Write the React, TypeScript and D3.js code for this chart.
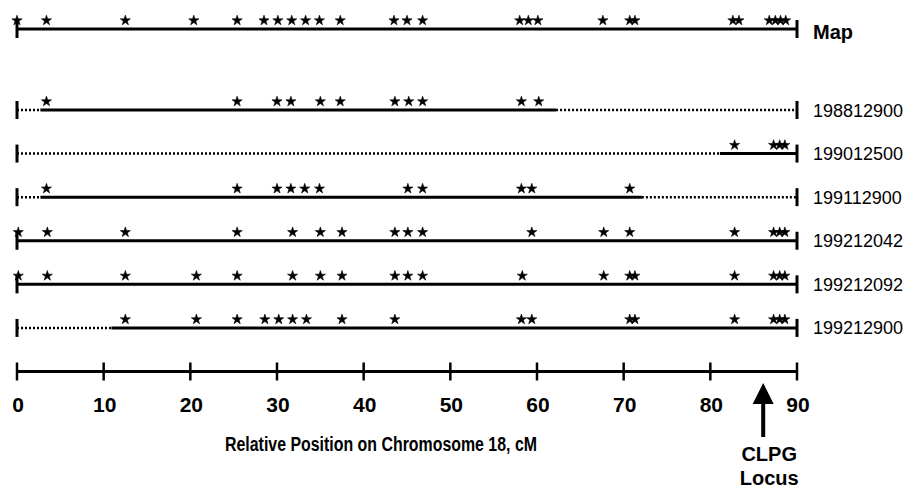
import React from "react"
import * as d3 from "d3"

// marker positions in cM
const mapMarkers = [0.0, 3.4, 12.5, 20.4, 25.4, 28.5, 30.1, 31.7, 33.3, 34.9, 37.3, 43.5, 45.0, 46.8, 58.0, 59.0, 60.1, 67.6, 70.7, 71.3, 82.6, 83.3, 86.8, 87.5, 88.1, 88.7]

const animals = ["198812900", "199012500", "199112900", "199212042", "199212092", "199212900"]

const markers198812900 = [3.4, 25.4, 30.0, 31.6, 35.0, 37.3, 43.6, 45.2, 46.8, 58.2, 60.2]
const markers199012500 = [82.8, 87.3, 88.0, 88.6]
const markers199112900 = [3.4, 25.4, 30.0, 31.6, 33.2, 34.9, 45.1, 46.8, 58.2, 59.4, 70.7]
const markers199212042 = [0.15, 3.5, 12.5, 25.4, 31.8, 35.0, 37.5, 43.6, 45.1, 46.8, 59.4, 67.7, 70.7, 82.8, 87.3, 88.0, 88.6]
const markers199212092 = [0.15, 3.5, 12.5, 20.7, 25.4, 31.8, 35.0, 37.5, 43.6, 45.1, 46.8, 58.3, 67.7, 70.7, 71.3, 82.8, 87.3, 88.0, 88.6]
const markers199212900 = [12.5, 20.7, 25.4, 28.6, 30.2, 31.8, 33.4, 37.5, 43.6, 58.2, 59.4, 70.7, 71.3, 82.8, 87.3, 88.0, 88.6]

// informative (solid) stretch of each animal, start / end in cM
const solidStart = [2.7, 81.1, 2.7, 0, 0, 10.9]
const solidEnd = [62.2, 90, 72.1, 90, 90, 90]

const axisTicks = [0, 10, 20, 30, 40, 50, 60, 70, 80, 90]
const chromLength = 90
const clpgLocus = 86.1

const FONT = "'Liberation Sans', Arial, Helvetica, sans-serif"

export default function App() {
  const ref = React.useRef<SVGSVGElement>(null)

  React.useEffect(() => {
    const width = 904
    const height = 489
    const svg = d3.select(ref.current)
    svg.selectAll("*").remove()
    svg.attr("width", width).attr("height", height)

    const x = d3.scaleLinear().domain([0, chromLength]).range([17, 797])
    // rows 0..5 are animals, row 6 is the axis
    const y = d3.scaleLinear().domain([0, 6]).range([110, 371.5])
    const mapY = 29

    const star = d3.symbol().type(d3.symbolStar).size(32)

    const drawTrack = (yPos: number, from: number, to: number, stars: number[]) => {
      const g = svg.append("g")
      const dotted: [number, number][] = []
      if (from > 0) dotted.push([0, from])
      if (to < chromLength) dotted.push([to, chromLength])

      g.selectAll("line.dot")
        .data(dotted)
        .enter()
        .append("line")
        .attr("x1", (d) => x(d[0]))
        .attr("x2", (d) => x(d[1]))
        .attr("y1", yPos)
        .attr("y2", yPos)
        .attr("stroke", "#000")
        .attr("stroke-width", 2.5)
        .attr("stroke-dasharray", "2,2")

      g.append("line")
        .attr("x1", x(from))
        .attr("x2", x(to))
        .attr("y1", yPos)
        .attr("y2", yPos)
        .attr("stroke", "#000")
        .attr("stroke-width", 3)

      // end bars
      g.selectAll("line.end")
        .data([0, chromLength])
        .enter()
        .append("line")
        .attr("x1", (d) => x(d))
        .attr("x2", (d) => x(d))
        .attr("y1", yPos - 9)
        .attr("y2", yPos + 9)
        .attr("stroke", "#000")
        .attr("stroke-width", 3)

      g.selectAll("path.star")
        .data(stars)
        .enter()
        .append("path")
        .attr("d", star)
        .attr("transform", (d) => `translate(${x(d)},${yPos - 8.5})`)
        .attr("fill", "#000")
        .attr("stroke", "#000")
        .attr("stroke-width", 0.6)
    }

    // consensus map
    drawTrack(mapY, 0, chromLength, mapMarkers)
    svg.append("text")
      .attr("x", 813)
      .attr("y", mapY + 10)
      .attr("font-family", FONT)
      .attr("font-weight", "bold")
      .attr("font-size", 20)
      .text("Map")

    const rowMarkers = [markers198812900, markers199012500, markers199112900, markers199212042, markers199212092, markers199212900]
    animals.forEach((name, i) => {
      drawTrack(y(i), solidStart[i], solidEnd[i], rowMarkers[i])
      svg.append("text")
        .attr("x", 813)
        .attr("y", y(i) + 6.5)
        .attr("font-family", FONT)
        .attr("font-size", 18)
        .text(name)
    })

    // axis
    const axisY = y(6)
    const ax = svg.append("g")
    ax.append("line")
      .attr("x1", x(0))
      .attr("x2", x(chromLength))
      .attr("y1", axisY)
      .attr("y2", axisY)
      .attr("stroke", "#000")
      .attr("stroke-width", 3)
    ax.selectAll("line.tick")
      .data(axisTicks)
      .enter()
      .append("line")
      .attr("x1", (d) => x(d))
      .attr("x2", (d) => x(d))
      .attr("y1", axisY - 9)
      .attr("y2", axisY + 9)
      .attr("stroke", "#000")
      .attr("stroke-width", 2.5)
    ax.selectAll("text")
      .data(axisTicks)
      .enter()
      .append("text")
      .attr("x", (d) => x(d) + 1)
      .attr("y", 412)
      .attr("text-anchor", "middle")
      .attr("font-family", FONT)
      .attr("font-weight", "bold")
      .attr("font-size", 21)
      .text((d) => d)

    svg.append("text")
      .attr("x", 225)
      .attr("y", 451)
      .attr("font-family", FONT)
      .attr("font-weight", "bold")
      .attr("font-size", 20)
      .attr("textLength", 312)
      .attr("lengthAdjust", "spacingAndGlyphs")
      .text("Relative Position on Chromosome 18, cM")

    // CLPG arrow
    const ax0 = x(clpgLocus)
    svg.append("rect")
      .attr("x", ax0 - 2)
      .attr("y", 402)
      .attr("width", 4)
      .attr("height", 35)
      .attr("fill", "#000")
    svg.append("path")
      .attr("d", `M${ax0},383 L${ax0 + 10.5},404 L${ax0 - 10.5},404 Z`)
      .attr("fill", "#000")
    svg.selectAll("text.clpg")
      .data(["CLPG", "Locus"])
      .enter()
      .append("text")
      .attr("x", ax0 + 6)
      .attr("y", (d, i) => 461 + i * 24)
      .attr("text-anchor", "middle")
      .attr("font-family", FONT)
      .attr("font-weight", "bold")
      .attr("font-size", 20)
      .text((d) => d)
  }, [])

  return <svg ref={ref} style={{ position: "absolute", left: 0, top: 0, background: "#fff" }} />
}
